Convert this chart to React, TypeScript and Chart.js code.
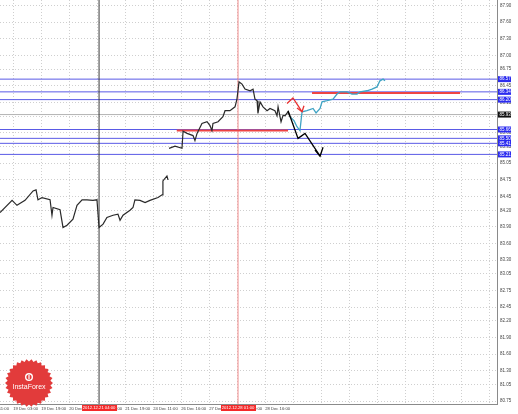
import React, { useEffect, useRef } from 'react';
import { Chart, registerables } from 'chart.js';
Chart.register(...registerables);

// ---- data (bar index, price) ----
const seg1Idx = [0, 6.9, 9.7, 14.3, 18.9, 20.6, 21.7, 24, 28.6, 29.7, 30.3, 34.3, 36, 38.3, 41.7, 44, 46.9, 49.7, 53.1, 55.4, 56.6, 58.9, 61.1, 64.6, 67.4, 68.6, 70.3, 74.3, 76, 77.1, 80, 82.9, 85.7, 90.3, 92.6, 93.1, 95.4, 96];
const seg1Price = [84.16, 84.38, 84.29, 84.38, 84.55, 84.57, 84.39, 84.43, 84.39, 84.11, 84.25, 84.21, 83.89, 83.93, 84.04, 84.29, 84.39, 84.39, 84.38, 84.39, 83.89, 83.95, 84.07, 84.11, 84.13, 84.02, 84.11, 84.2, 84.25, 84.39, 84.38, 84.34, 84.38, 84.43, 84.48, 84.73, 84.82, 84.75];
const seg2Idx = [96.6, 100, 104, 104.6, 106.9, 110.3, 111.4, 112.6, 115.4, 118.3, 120, 121.1, 121.7, 124.6, 127.4, 128.6, 131.4, 134.3, 135.4, 136.6, 138.3, 140, 142.9, 144.6, 145.7, 146.9, 147.4, 148.6, 150.3, 152.6, 154.3, 157.1, 158.3, 158.9, 160.6, 161.7, 162.9, 164.6, 165.7];
const seg2Price = [85.32, 85.36, 85.32, 85.63, 85.59, 85.55, 85.46, 85.59, 85.77, 85.8, 85.73, 85.64, 85.77, 85.8, 85.89, 86.0, 86.0, 86.07, 86.21, 86.52, 86.48, 86.39, 86.36, 86.39, 86.21, 86.18, 85.95, 86.16, 86.07, 86.0, 86.04, 86.0, 85.91, 86.07, 85.8, 85.91, 85.91, 85.98, 85.89];
const cyanIdx = [165.7, 168, 169.7, 171.4, 172.6, 175.4, 178.9, 180.6, 182.9, 184, 186.9, 190.3, 192.6, 194.3, 198.3, 201.1, 204, 205.7, 209.7, 212.6, 215.4, 217.1, 218.9, 220];
const cyanPrice = [85.89, 85.82, 85.71, 85.64, 85.98, 86.0, 86.04, 85.96, 86.04, 86.16, 86.18, 86.21, 86.3, 86.34, 86.34, 86.3, 86.3, 86.34, 86.36, 86.39, 86.43, 86.54, 86.57, 86.54];

const blueLevels = [86.57, 86.34, 86.2, 85.66, 85.5, 85.41, 85.21];
const currentLevel = 85.93;

const supportSeg = { from: 101, to: 164.6, price: 85.64 };
const resistSeg = { from: 178.3, to: 262.9, price: 86.32 };

const redArrowIdx = [164, 167.4, 170.3, 172.6];
const redArrowPrice = [86.13, 86.23, 86.09, 85.98];
const redHeadIdx = [169.7, 172.6, 173.7];
const redHeadPrice = [86.05, 85.98, 86.09];

const blackArrowIdx = [164.6, 170.3, 174.3, 182.9];
const blackArrowPrice = [86.0, 85.5, 85.59, 85.18];
const blackHeadIdx = [180, 182.9, 184.6];
const blackHeadPrice = [85.29, 85.18, 85.34];

const vLineBlack = 56.6;
const vLineRed = 136;
const vLineLabels = ['2012.12.21 04:00', '2012.12.28 01:00'];

const yTickValues = [80.75, 81.05, 81.3, 81.6, 81.9, 82.2, 82.45, 82.75, 83.05, 83.3, 83.6, 83.9, 84.2, 84.45, 84.75, 85.05, 85.35, 85.6, 85.9, 86.15, 86.45, 86.75, 87.0, 87.3, 87.6, 87.9];
const xTickIdx = [7.5, 23.5, 39.5, 55.5, 71.5, 87.5, 103.5, 119.5, 135.5, 151.5, 167.5, 183.5, 199.5, 215.5, 231.5, 247.5, 263.5, 279.5];
const xTickLabels = ['19 Dec 03:00', '19 Dec 19:00', '20 Dec 11:00', '21 Dec 03:00', '21 Dec 19:00', '24 Dec 11:00', '26 Dec 16:00', '27 Dec 08:00', '28 Dec 00:00', '28 Dec 16:00', '', '', '', '', '', '', '', ''];

const Y_MIN = 80.7, Y_MAX = 88.0, X_MIN = 0, X_MAX = 284;

const pts = (xs: number[], ys: number[]) => xs.map((x, i) => ({ x, y: ys[i] }));

export default function App() {
  const ref = useRef<HTMLCanvasElement>(null);
  useEffect(() => {
    if (!ref.current) return;
    const line = (data: any[], color: string, width: number) => ({
      type: 'line', data, borderColor: color, borderWidth: width, pointRadius: 0, fill: false, tension: 0, spanGaps: false,
    });
    const bottomToTop: any[] = [];
    bottomToTop.push(line([{ x: X_MIN, y: currentLevel }, { x: X_MAX, y: currentLevel }], '#b4b4b4', 1));
    blueLevels.forEach((v) => bottomToTop.push(line([{ x: X_MIN, y: v }, { x: X_MAX, y: v }], '#5a5ae6', 1)));
    bottomToTop.push(line([{ x: vLineBlack, y: Y_MIN }, { x: vLineBlack, y: Y_MAX }], '#3a3a3a', 1));
    bottomToTop.push(line([{ x: vLineRed, y: Y_MIN }, { x: vLineRed, y: Y_MAX }], '#f08a8a', 1));
    bottomToTop.push(line([{ x: supportSeg.from, y: supportSeg.price }, { x: supportSeg.to, y: supportSeg.price }], '#ee4444', 2));
    bottomToTop.push(line([{ x: resistSeg.from, y: resistSeg.price }, { x: resistSeg.to, y: resistSeg.price }], '#ee4444', 2));
    bottomToTop.push(line(pts(seg1Idx, seg1Price), '#2a2a2a', 1.2));
    bottomToTop.push(line(pts(seg2Idx, seg2Price), '#2a2a2a', 1.2));
    bottomToTop.push(line(pts(cyanIdx, cyanPrice), '#3fa3c4', 1.3));
    bottomToTop.push(line(pts(redArrowIdx, redArrowPrice), '#e83030', 1.3));
    bottomToTop.push(line(pts(redHeadIdx, redHeadPrice), '#e83030', 1.3));
    bottomToTop.push(line(pts(blackArrowIdx, blackArrowPrice), '#000000', 1.3));
    bottomToTop.push(line(pts(blackHeadIdx, blackHeadPrice), '#000000', 1.3));
    const datasets = bottomToTop.slice().reverse();

    const overlay = {
      id: 'overlay',
      afterDraw(chart: any) {
        const { ctx, chartArea } = chart;
        const x = chart.scales.x, y = chart.scales.y;
        ctx.save();
        // price label boxes on right axis
        const drawBox = (v: number, fill: string) => {
          const py = y.getPixelForValue(v);
          ctx.fillStyle = fill;
          ctx.fillRect(chartArea.right + 1, py - 3, 13, 6);
          ctx.fillStyle = '#ffffff';
          ctx.font = '4.5px "Liberation Sans"';
          ctx.textBaseline = 'middle';
          ctx.textAlign = 'left';
          ctx.fillText(v.toFixed(2), chartArea.right + 2.5, py);
        };
        blueLevels.forEach((v) => drawBox(v, '#2b2bef'));
        drawBox(currentLevel, '#111111');
        // red time boxes
        [vLineBlack, vLineRed].forEach((idx, i) => {
          const px = x.getPixelForValue(idx);
          ctx.fillStyle = '#f42a2a';
          ctx.fillRect(px - 17, chartArea.bottom + 1, 35, 6);
          ctx.fillStyle = '#ffffff';
          ctx.font = '4.2px "Liberation Sans"';
          ctx.textAlign = 'center';
          ctx.textBaseline = 'middle';
          ctx.fillText(vLineLabels[i], px, chartArea.bottom + 4);
        });
        // clipped first label
        ctx.fillStyle = '#444';
        ctx.font = '4.2px "Liberation Sans"';
        ctx.textAlign = 'right';
        ctx.textBaseline = 'middle';
        ctx.fillText('18 Dec 11:00', 9, chartArea.bottom + 4.5);
        // logo badge
        const cx = 29, cy = 383, rO = 24, rI = 21.5, n = 30;
        ctx.beginPath();
        for (let k = 0; k < n * 2; k++) {
          const a = (Math.PI * k) / n;
          const r = k % 2 === 0 ? rO : rI;
          const px = cx + r * Math.cos(a), py = cy + r * Math.sin(a);
          if (k === 0) ctx.moveTo(px, py); else ctx.lineTo(px, py);
        }
        ctx.closePath();
        ctx.fillStyle = '#e23b3b';
        ctx.fill();
        ctx.beginPath();
        ctx.arc(cx, cy - 6, 4, 0, Math.PI * 2);
        ctx.fillStyle = '#ffffff';
        ctx.fill();
        ctx.beginPath();
        ctx.arc(cx, cy - 6, 2.6, 0, Math.PI * 2);
        ctx.fillStyle = '#e23b3b';
        ctx.fill();
        ctx.fillStyle = '#ffffff';
        ctx.fillRect(cx - 0.6, cy - 8, 1.2, 4);
        ctx.font = '7px "Liberation Sans"';
        ctx.textAlign = 'center';
        ctx.textBaseline = 'middle';
        ctx.fillText('InstaForex', cx, cy + 4);
        ctx.restore();
      },
    };

    const chart = new Chart(ref.current, {
      type: 'line',
      data: { datasets },
      options: {
        animation: false,
        responsive: false,
        layout: { padding: 0 },
        plugins: { legend: { display: false }, tooltip: { enabled: false } },
        scales: {
          x: {
            type: 'linear', min: X_MIN, max: X_MAX, position: 'bottom',
            afterBuildTicks: (s: any) => { s.ticks = xTickIdx.map((v) => ({ value: v })); },
            afterFit: (s: any) => { s.height = 10; s.paddingLeft = 0; s.paddingRight = 0; s.paddingTop = 0; s.paddingBottom = 0; },
            ticks: {
              autoSkip: false, maxRotation: 0, minRotation: 0, align: 'start', padding: 2,
              color: '#444', font: { size: 4.2, family: 'Liberation Sans' },
              callback: (_v: any, i: number) => xTickLabels[i] ?? '',
            },
            grid: { color: '#cfcfcf', drawTicks: false },
            border: { display: true, color: '#8a8a8a', width: 1, dash: [1, 2] },
          },
          y: {
            type: 'linear', min: Y_MIN, max: Y_MAX, position: 'right',
            afterBuildTicks: (s: any) => { s.ticks = yTickValues.map((v) => ({ value: v })); },
            afterFit: (s: any) => { s.width = 21; s.paddingLeft = 0; s.paddingRight = 0; s.paddingTop = 0; s.paddingBottom = 0; },
            ticks: {
              autoSkip: false, padding: 3,
              color: '#444', font: { size: 4.5, family: 'Liberation Sans' },
              callback: (v: any) => Number(v).toFixed(2),
            },
            grid: { color: '#cfcfcf', drawTicks: false },
            border: { display: true, color: '#8a8a8a', width: 1, dash: [1, 2] },
          },
        },
      } as any,
      plugins: [overlay],
    } as any);
    return () => chart.destroy();
  }, []);

  return (
    <div style={{ position: 'fixed', left: 0, top: 0, width: 518, height: 414, background: '#ffffff' }}>
      <canvas ref={ref} width={518} height={414} style={{ display: 'block' }} />
    </div>
  );
}
